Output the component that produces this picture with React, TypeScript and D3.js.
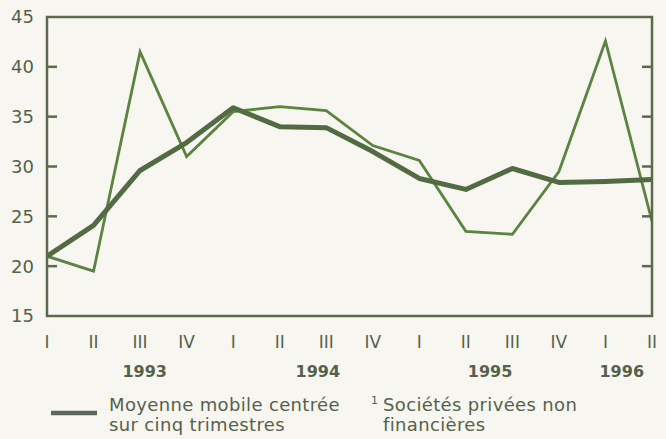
import React from "react";
import * as d3 from "d3";

const quarters = ["I", "II", "III", "IV", "I", "II", "III", "IV", "I", "II", "III", "IV", "I", "II"];
const years = [
  { label: "1993", at: 2.1 },
  { label: "1994", at: 5.82 },
  { label: "1995", at: 9.52 },
  { label: "1996", at: 12.35 },
];
const rawSeries = [21.0, 19.5, 41.5, 31.0, 35.5, 36.0, 35.6, 32.1, 30.6, 23.5, 23.2, 29.5, 42.6, 24.5];
const movingAvg = [21.0, 24.1, 29.6, 32.4, 35.9, 34.0, 33.9, 31.5, 28.8, 27.7, 29.8, 28.4, 28.5, 28.7];
const yTicks = [15, 20, 25, 30, 35, 40, 45];
const innerTicks = [20, 25, 30, 35, 40];

const W = 666;
const H = 439;
const left = 47;
const right = 652;
const top = 17;
const bottom = 316;

export default function App() {
  const x = d3.scaleLinear().domain([0, quarters.length - 1]).range([left, right]);
  const y = d3.scaleLinear().domain([15, 45]).range([bottom, top]);
  const line = d3
    .line<number>()
    .x((_, i) => x(i))
    .y((d) => y(d));

  const textColor = "#55624a";
  const frameColor = "#5b6a4c";
  const font = "'DejaVu Sans', sans-serif";

  return (
    <svg
      width={W}
      height={H}
      style={{ position: "absolute", left: 0, top: 0, background: "#f7f6f1" }}
      fontFamily={font}
    >
      <rect x={0} y={0} width={W} height={H} fill="#f7f6f1" />
      <defs>
        <clipPath id="plot">
          <rect x={left} y={top} width={right - left} height={bottom - top} />
        </clipPath>
      </defs>
      <g clipPath="url(#plot)">
        <path d={line(rawSeries) || ""} fill="none" stroke="#5c8340" strokeWidth={2.8} strokeLinejoin="miter" />
        <path d={line(movingAvg) || ""} fill="none" stroke="#526b42" strokeWidth={5} strokeLinejoin="round" strokeLinecap="round" />
      </g>
      <rect x={left} y={top} width={right - left} height={bottom - top} fill="none" stroke={frameColor} strokeWidth={2.5} />
      {innerTicks.map((t) => (
        <g key={t}>
          <line x1={left} x2={left + 10} y1={y(t)} y2={y(t)} stroke={frameColor} strokeWidth={2.5} />
          <line x1={right - 10} x2={right} y1={y(t)} y2={y(t)} stroke={frameColor} strokeWidth={2.5} />
        </g>
      ))}
      {yTicks.map((t) => (
        <text key={t} x={34} y={y(t)} dy="0.36em" textAnchor="end" fontSize={18} fill={textColor}>
          {t}
        </text>
      ))}
      {quarters.map((q, i) => (
        <text key={i} x={x(i)} y={348} textAnchor="middle" fontSize={17} fill={textColor}>
          {q}
        </text>
      ))}
      {years.map((yr) => (
        <text
          key={yr.label}
          x={x(yr.at)}
          y={377}
          textAnchor="middle"
          fontSize={16}
          fontWeight="bold"
          fill={textColor}
        >
          {yr.label}
        </text>
      ))}
      <line x1={51} x2={97} y1={413} y2={413} stroke="#5e685a" strokeWidth={4.5} />
      <g fontSize={18} letterSpacing={0.35} fill={textColor}>
        <text x={109} y={411}>Moyenne mobile centrée</text>
        <text x={109} y={431}>sur cinq trimestres</text>
        <text x={383} y={411}>Sociétés privées non</text>
        <text x={383} y={431}>financières</text>
      </g>
      <text x={371} y={404} fontSize={11} fill={textColor}>
        1
      </text>
    </svg>
  );
}
